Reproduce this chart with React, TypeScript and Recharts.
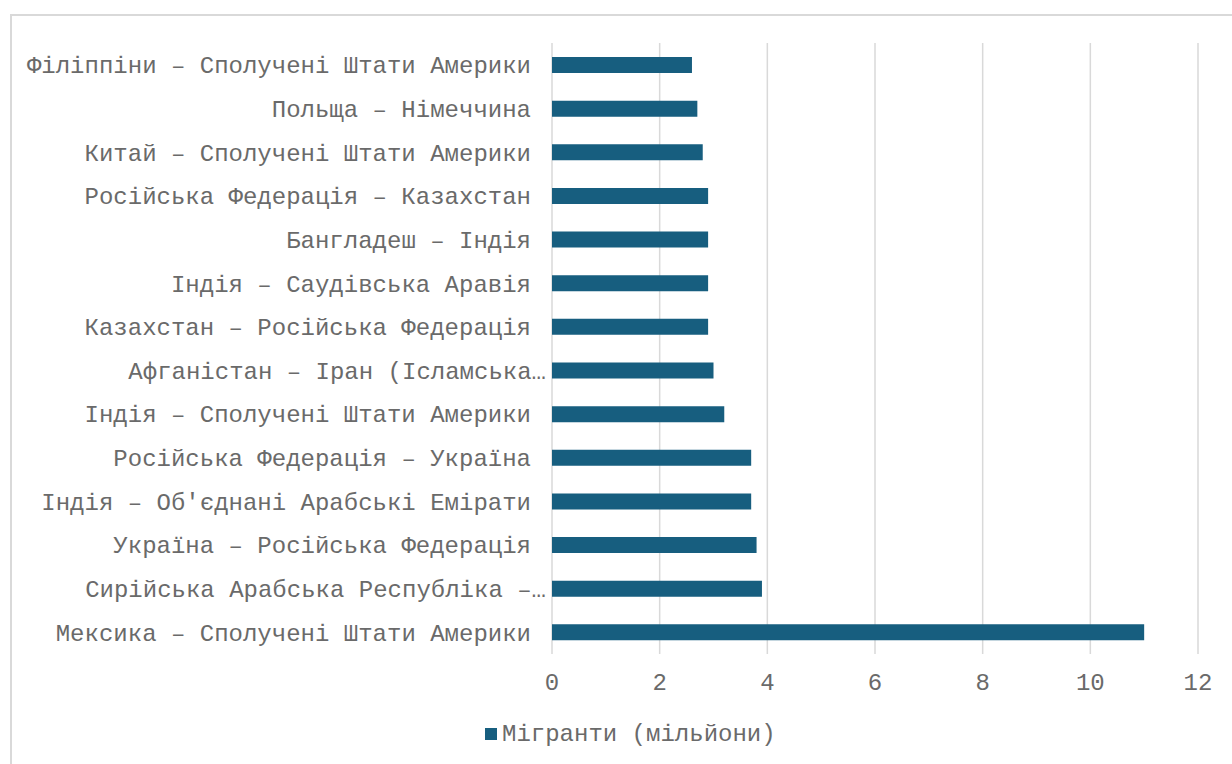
import React from "react";
import {
  BarChart,
  Bar,
  XAxis,
  YAxis,
  CartesianGrid,
  Legend,
} from "recharts";

// corridors, top to bottom as drawn
const corridors = [
  "Філіппіни – Сполучені Штати Америки",
  "Польща – Німеччина",
  "Китай – Сполучені Штати Америки",
  "Російська Федерація – Казахстан",
  "Бангладеш – Індія",
  "Індія – Саудівська Аравія",
  "Казахстан – Російська Федерація",
  "Афганістан – Іран (Ісламська…",
  "Індія – Сполучені Штати Америки",
  "Російська Федерація – Україна",
  "Індія – Об'єднані Арабські Емірати",
  "Україна – Російська Федерація",
  "Сирійська Арабська Республіка –…",
  "Мексика – Сполучені Штати Америки",
];

const migrants = [2.6, 2.7, 2.8, 2.9, 2.9, 2.9, 2.9, 3.0, 3.2, 3.7, 3.7, 3.8, 3.9, 11.0];

const xTicks = [0, 2, 4, 6, 8, 10, 12];

const seriesName = "Мігранти (мільйони)";

const FONT = '"Liberation Mono", "Courier New", monospace';
const TEXT = "#6a6a6a";
const BAR = "#175e7f";

const chartData = corridors.map((name, i) => ({
  name,
  value: migrants[i],
}));

// truncated labels in the original sit a little closer to the bars
const CorridorTick = (props: any) => {
  const { x, y, payload } = props;
  const label: string = payload.value;
  const shift = label.endsWith("…") ? 15 : 0;
  return (
    <text
      x={x + shift}
      y={y}
      dy="0.355em"
      textAnchor="end"
      fill={TEXT}
      fontSize={24}
      fontFamily={FONT}
    >
      {label}
    </text>
  );
};

const LegendBox = () => (
  <div
    style={{
      height: 40,
      display: "flex",
      alignItems: "center",
      paddingLeft: 485,
      fontFamily: FONT,
      fontSize: 24,
      color: TEXT,
    }}
  >
    <span
      style={{
        width: 12,
        height: 12,
        background: BAR,
        display: "inline-block",
        marginRight: 5,
      }}
    />
    <span>{seriesName}</span>
  </div>
);

export default function App() {
  return (
    <div
      style={{
        position: "fixed",
        left: 0,
        top: 0,
        width: 1232,
        height: 764,
        overflow: "hidden",
        background: "#fff",
      }}
    >
      <div
        style={{
          position: "absolute",
          left: 10,
          top: 14,
          width: 1260,
          height: 800,
          border: "2px solid #d9d9d9",
          boxSizing: "border-box",
        }}
      />
      <div style={{ position: "absolute", left: 0, top: 0 }}>
        <BarChart
          width={1232}
          height={764}
          data={chartData}
          layout="vertical"
          margin={{ top: 43, right: 34, left: 0, bottom: 10 }}
        >
          <CartesianGrid
            horizontal={false}
            stroke="#d9d9d9"
            strokeWidth={1.5}
          />
          <XAxis
            type="number"
            domain={[0, 12]}
            ticks={xTicks}
            axisLine={false}
            tickLine={false}
            height={60}
            tickMargin={13}
            tick={{ fill: TEXT, fontSize: 24, fontFamily: FONT }}
          />
          <YAxis
            type="category"
            dataKey="name"
            width={552}
            interval={0}
            axisLine={false}
            tickLine={false}
            tickMargin={15}
            tick={<CorridorTick />}
          />
          <Legend verticalAlign="bottom" content={() => <LegendBox />} />
          <Bar
            dataKey="value"
            name={seriesName}
            fill={BAR}
            barSize={16}
            isAnimationActive={false}
          />
        </BarChart>
      </div>
    </div>
  );
}
